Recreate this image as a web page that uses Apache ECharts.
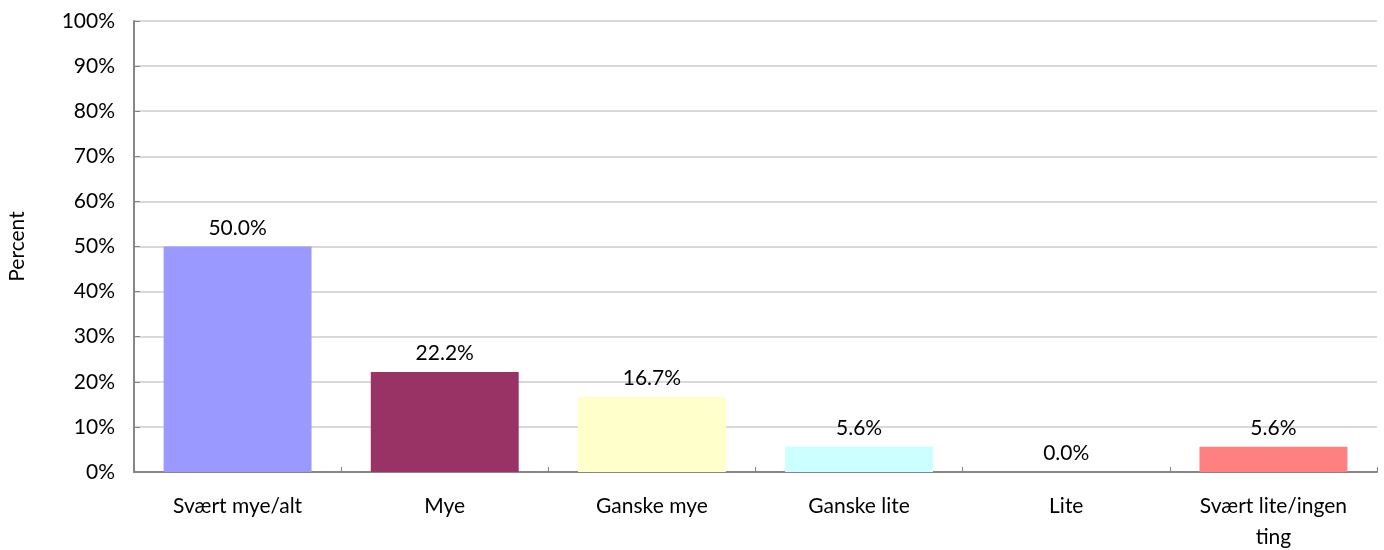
<!DOCTYPE html>
<html><head><meta charset="utf-8">
<script src="https://cdn.jsdelivr.net/npm/echarts@6/dist/echarts.min.js"></script>
<style>html,body{margin:0;padding:0;background:#fff}#c{width:1384px;height:550px}</style>
</head><body><div id="c"></div>
<script>
const categories = ["Svært mye/alt", "Mye", "Ganske mye", "Ganske lite", "Lite", "Svært lite/ingen\nting"];
const values = [50.0, 22.2, 16.7, 5.6, 0.0, 5.6];
const colors = ["#9999FF", "#993366", "#FFFFCC", "#CCFFFF", "#FFFF99", "#FF8080"];
const yTicks = [0, 10, 20, 30, 40, 50, 60, 70, 80, 90, 100];
const FONT = "Lato, 'Open Sans', sans-serif";
const FS = 21;
const chart = echarts.init(document.getElementById('c'));
chart.setOption({
  animation: false,
  grid: {left: 134, right: 7, top: 21, bottom: 78, outerBoundsMode: 'none', containLabel: false},
  xAxis: {
    type: 'category', data: categories,
    axisLine: {lineStyle: {color: '#868686', width: 2}},
    axisTick: {show: true, inside: true, length: 5, lineStyle: {color: '#868686'}},
    axisLabel: {color: '#000', fontSize: FS, fontFamily: FONT, margin: 19, lineHeight: 31}
  },
  yAxis: {
    type: 'value', min: 0, max: 100, interval: 10,
    name: 'Percent', nameLocation: 'middle', nameGap: 106, nameRotate: 90,
    nameTextStyle: {color: '#000', fontSize: FS, fontFamily: FONT},
    axisLine: {show: true, lineStyle: {color: '#868686', width: 2}},
    axisTick: {show: true, inside: true, length: 6, lineStyle: {color: '#868686'}},
    splitLine: {lineStyle: {color: '#d9d9d9', width: 2}},
    axisLabel: {color: '#000', fontSize: FS, fontFamily: FONT, margin: 19,
      formatter: v => yTicks.includes(v) ? v + '%' : ''}
  },
  series: [{
    type: 'bar', data: values.map((v, i) => ({value: v, itemStyle: {color: colors[i]}})),
    barCategoryGap: '28.6%',
    label: {show: true, position: 'top', distance: 8, color: '#000', fontSize: FS, fontFamily: FONT,
      formatter: p => p.value.toFixed(1) + '%'}
  }]
});
</script></body></html>
